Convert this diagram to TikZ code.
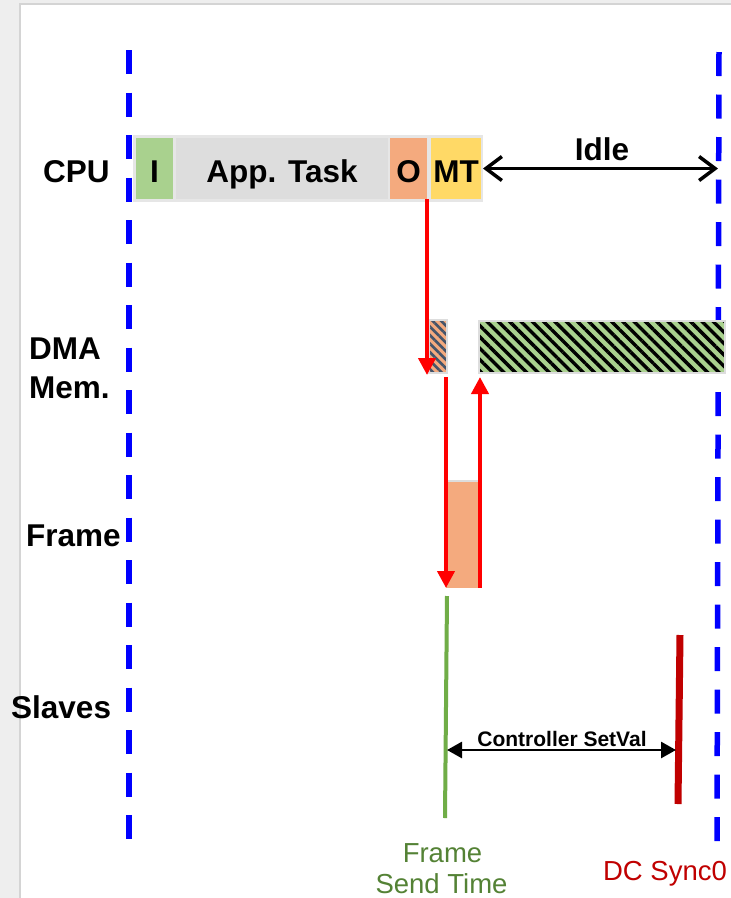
\documentclass[tikz,border=0pt]{standalone}
\usepackage{fontspec}
\setmainfont{Liberation Sans}
\usetikzlibrary{arrows.meta,patterns.meta,calc}
\definecolor{bgcol}{HTML}{EEEEEE}
\definecolor{panelline}{HTML}{D4D4D4}
\definecolor{dashblue}{HTML}{0000FF}
\definecolor{cellgray}{HTML}{DDDDDD}
\definecolor{barback}{HTML}{E6E6E6}
\definecolor{igreen}{HTML}{A9D18E}
\definecolor{oorange}{HTML}{F4AA7E}
\definecolor{mtyellow}{HTML}{FFD966}
\definecolor{slate}{HTML}{44546A}
\definecolor{sendgreen}{HTML}{70AD47}
\definecolor{sendtext}{HTML}{548235}
\definecolor{syncred}{HTML}{C00000}
\definecolor{arrowred}{HTML}{FF0000}
\begin{document}
\begin{tikzpicture}[x=1pt,y=-1pt,
  cell/.style={inner sep=0pt, outer sep=0pt, anchor=north west,
    minimum height=61pt, text height=27pt, text depth=0pt,
    font=\fontsize{31.5}{37}\selectfont\bfseries},
  rowlabel/.style={inner sep=0pt, anchor=base west, font=\fontsize{31.5}{37}\selectfont\bfseries},
  timeline/.style={dashblue, line width=5.5pt, dash pattern=on 24pt off 18.5pt},
  redarrow/.style={arrowred, line width=4pt, -{Triangle[length=17pt,width=17pt]}},
  idlearrow/.style={black, line width=3.5pt, {Straight Barb[length=16pt,width=24pt]}-{Straight Barb[length=16pt,width=24pt]}},
  ctrlarrow/.style={black, line width=2.8pt, {Triangle[length=15pt,width=16pt]}-{Triangle[length=15pt,width=16pt]}},
  memblock/.style={inner sep=0pt, outer sep=0pt, anchor=north west, draw=cellgray, line width=2pt},
  marktext/.style={inner sep=0pt, anchor=base, font=\fontsize{27.5}{31}\selectfont}
]
\useasboundingbox (0,0) rectangle (731,898);
% page background and panel
\fill[bgcol] (0,0) rectangle (731,898);
\fill[white] (20,4) rectangle (731,898);
\draw[panelline, line width=1.5pt] (20,898) -- (20,4) -- (731,4);

% timeline boundaries
\coordinate (ltop) at (129,50);
\coordinate (lbot) at (129,840);
\coordinate (rtop) at (719,52);
\coordinate (rbot) at (717,842);
\draw[timeline] (ltop) -- (lbot);
\draw[timeline] (rtop) -- (rbot);

% row labels
\node[rowlabel] (lcpu) at (43,182) {CPU};
\node[rowlabel] (ldma) at (29,359) {DMA};
\node[rowlabel] (lmem) at (29,398) {Mem.};
\node[rowlabel] (lframe) at (26,546) {Frame};
\node[rowlabel] (lslaves) at (11,718) {Slaves};

% CPU bar
\node[inner sep=0pt, outer sep=0pt, anchor=north west, fill=barback,
  minimum width=350pt, minimum height=67pt] (cpubar) at (133,135) {};
\node[cell, fill=igreen, minimum width=37pt] (I) at (136,138) {I};
\node[cell, fill=cellgray, minimum width=212pt] (app) at (176,138) {App. Task};
\node[cell, fill=oorange, minimum width=37pt] (O) at (390,138) {O};
\node[cell, fill=mtyellow, minimum width=50pt] (MT) at (431,138) {MT};

% idle arrow
\coordinate (idleend) at (718,168.5);
\draw[idlearrow] (cpubar.east) -- (idleend);
\node[inner sep=0pt, anchor=base, font=\fontsize{31.5}{37}\selectfont\bfseries] (idle) at (602,160) {Idle};

% DMA memory blocks
\node[memblock, minimum width=18pt, minimum height=53pt,
  preaction={fill=oorange},
  pattern={Lines[angle=-45,distance=6pt,line width=2.6pt]}, pattern color=slate] (dmasmall) at (429,320) {};
\node[memblock, minimum width=246pt, minimum height=52pt,
  preaction={fill=igreen},
  pattern={Lines[angle=-45,distance=8pt,line width=3.4pt]}, pattern color=black] (dmabig) at (479,321) {};

% Frame block
\node[inner sep=0pt, outer sep=0pt, anchor=north west, fill=oorange,
  minimum width=34pt, minimum height=107pt] (frame) at (446,481) {};
\draw[cellgray, line width=1.5pt] (frame.north west) -- (frame.north east);

% red transfer arrows
\draw[redarrow] (O.south east) -- ($(O.south east |- dmasmall.south)+(0,2)$);
\draw[redarrow] ($(dmasmall.south east)+(-1,4)$) -- (frame.south west);
\draw[redarrow] (frame.south east) -- ($(frame.south east |- dmabig.south)+(0,4)$);

% slaves: frame send time and DC sync0
\coordinate (sendtop) at (447,596);
\coordinate (sendbot) at (445,818);
\draw[sendgreen, line width=4pt] (sendtop) -- (sendbot);
\coordinate (synctop) at (680,635);
\coordinate (syncbot) at (678,804);
\draw[syncred, line width=7pt] (synctop) -- (syncbot);
\coordinate (ctrlL) at (447,750);
\coordinate (ctrlR) at (676,750);
\draw[ctrlarrow] (ctrlL) -- (ctrlR);
\node[inner sep=0pt, anchor=base, font=\fontsize{21}{25}\selectfont\bfseries] (ctrl) at (562,746) {Controller SetVal};

% bottom markers
\node[marktext, text=sendtext] (send1) at (442.5,862) {Frame};
\node[marktext, text=sendtext] (send2) at (441.5,893) {Send Time};
\node[marktext, text=syncred] (sync) at (665,880) {DC Sync0};
\end{tikzpicture}
\end{document}
